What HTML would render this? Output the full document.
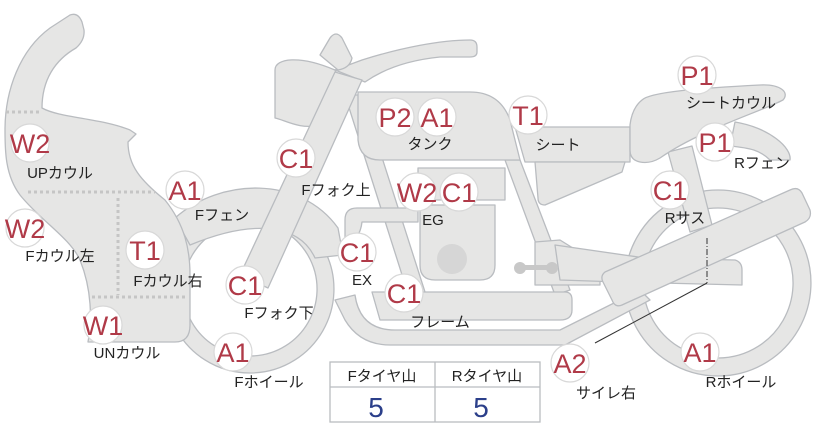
<!DOCTYPE html>
<html><head><meta charset="utf-8"><style>
html,body{margin:0;padding:0;background:#fff;}
svg{display:block;}
.p{fill:#e6e6e5;stroke:#b9bcc0;stroke-width:1.3;stroke-linejoin:round;}
.b circle{fill:#fff;stroke:#d8d8d8;stroke-width:1.2;}
.b text{fill:#b03a48;font-family:"Liberation Sans",sans-serif;font-size:27px;text-anchor:middle;}
.l{font-family:"Liberation Sans","Noto Sans CJK JP",sans-serif;font-size:15px;fill:#222;text-anchor:middle;}
</style></head><body>
<svg width="822" height="425" viewBox="0 0 822 425" xmlns="http://www.w3.org/2000/svg">
<!-- front wheel -->
<path class="p" fill-rule="evenodd" d="M250,205 A84,84 0 1 1 249.9,205 Z M250,222 A67,67 0 1 0 250.1,222 Z"/>
<!-- front fender -->
<path class="p" d="M175,218 C220,178 300,175 338,228 L343,255 L315,258 C300,225 255,218 190,245 Z"/>
<!-- rear wheel -->
<path class="p" fill-rule="evenodd" d="M718,190 A93,93 0 1 1 717.9,190 Z M718,208 A75,75 0 1 0 718.1,208 Z"/>
<!-- handlebar -->
<path class="p" d="M335,70 L362,60 C400,48 440,40 470,40 Q477,40 477,47 L477,52 Q477,57 470,57 L440,57 C410,60 385,68 365,82 Z"/>
<!-- headlight -->
<path class="p" d="M320,55 L330,38 Q336,30 342,38 L352,58 Q350,68 338,70 Z"/>
<path class="p" d="M275,70 C275,58 300,55 335,70 C345,90 340,120 320,125 C300,130 285,120 275,118 Z"/>
<!-- frame tubes -->
<path class="p" d="M345,95 L362,95 L425,292 L410,300 Z"/>
<path class="p" d="M505,160 L520,160 L570,290 L555,295 Z"/>
<!-- fork -->
<path class="p" d="M240,275 L335,72 L362,80 L268,288 Z"/>
<path class="p" d="M372,292 L565,292 Q572,292 572,300 L572,310 Q572,320 560,320 L380,320 Z"/>
<path class="p" d="M355,295 Q360,330 395,330 L560,330 L640,290 L650,300 L565,345 L390,345 Q360,345 345,320 L335,300 Z"/>
<!-- tank -->
<path class="p" d="M358,92 L470,92 Q500,92 510,120 L520,160 L380,160 Q360,160 358,140 Z"/>
<!-- seat -->
<path class="p" d="M515,127 L630,127 L630,162 L525,162 Z"/>
<path class="p" d="M535,162 L625,162 L622,172 L545,205 Q538,205 538,198 Z"/>
<!-- rear fender -->
<path class="p" d="M735,122 C770,128 792,148 790,160 L770,160 C760,150 750,148 730,146 Z"/>
<!-- rear shock -->
<path class="p" d="M668,152 L692,146 L712,225 L690,232 Z"/>
<!-- seat cowl -->
<path class="p" d="M642,100 C650,92 700,88 760,85 C780,84 790,92 783,100 C760,112 700,130 660,158 Q650,164 640,162 Q630,160 630,150 L630,125 Q632,108 642,100 Z"/>
<!-- engine -->
<path class="p" d="M420,205 L495,205 L495,265 Q495,280 480,280 L435,280 Q420,280 420,265 Z"/>
<path class="p" d="M418,168 L505,168 L505,200 L418,200 Z"/>
<circle cx="452" cy="259" r="15" fill="#d6d6d6"/>
<path class="p" d="M345,220 Q345,208 357,208 L418,208 L418,222 L362,222 Q360,240 345,245 Z"/>
<!-- swingarm -->
<path class="p" d="M535,242 L560,240 L600,265 L600,285 L535,285 Z"/>
<path class="p" d="M555,245 L645,258 L735,260 Q742,262 742,270 L742,285 L620,282 L560,280 Z"/>
<!-- muffler -->
<path class="p" d="M605,272 L790,190 Q798,186 802,193 L810,210 Q812,218 805,222 L622,305 Q615,308 612,300 L603,282 Q600,276 605,272 Z"/>
<circle cx="520" cy="268" r="6" fill="#c8c8c8"/><circle cx="552" cy="268" r="6" fill="#c8c8c8"/>
<rect x="520" y="265" width="32" height="5" fill="#c8c8c8"/>
<!-- cowl -->
<path class="p" d="M70,15 Q78,12 82,22 L84,30 Q85,40 76,48 C55,60 42,80 42,108 C60,118 100,118 130,130 L136,134 L128,142 C128,165 140,180 165,200 C185,225 190,250 190,275 L190,325 Q190,342 175,342 L88,342 C92,320 92,290 80,260 C70,238 40,220 20,195 C5,175 5,150 5,130 C5,90 20,50 50,28 Z"/>
<g stroke="#c5c5c5" stroke-width="3" stroke-dasharray="3,3" fill="none">
<line x1="6" y1="112" x2="40" y2="112"/>
<line x1="28" y1="192" x2="155" y2="192"/>
<line x1="118" y1="198" x2="118" y2="295"/>
<line x1="92" y1="297" x2="188" y2="297"/>
</g>
<!-- leader -->
<line x1="707" y1="238" x2="707" y2="283" stroke="#333" stroke-width="1" stroke-dasharray="6,2,1,2"/>
<line x1="707" y1="283" x2="595" y2="343" stroke="#333" stroke-width="1"/>
<!-- table -->
<rect x="330" y="362" width="210" height="60" fill="#fff" stroke="#b9bcc0" stroke-width="1.3"/>
<line x1="330" y1="387" x2="540" y2="387" stroke="#b9bcc0" stroke-width="1.3"/>
<line x1="435" y1="362" x2="435" y2="422" stroke="#b9bcc0" stroke-width="1.3"/>
<text class="l" x="382" y="381">Fタイヤ山</text>
<text class="l" x="487" y="381">Rタイヤ山</text>
<text x="376" y="417" font-family="Liberation Sans,sans-serif" font-size="28" fill="#2b3f8a" text-anchor="middle">5</text>
<text x="481" y="417" font-family="Liberation Sans,sans-serif" font-size="28" fill="#2b3f8a" text-anchor="middle">5</text>
<!-- badges -->
<g class="b">
<circle cx="30" cy="143" r="19"/><text x="30" y="153">W2</text>
<circle cx="25" cy="228" r="19"/><text x="25" y="238">W2</text>
<circle cx="145" cy="250" r="19"/><text x="145" y="260">T1</text>
<circle cx="103" cy="325" r="19"/><text x="103" y="335">W1</text>
<circle cx="185" cy="190" r="19"/><text x="185" y="200">A1</text>
<circle cx="296" cy="158" r="19"/><text x="296" y="168">C1</text>
<circle cx="245" cy="285" r="19"/><text x="245" y="295">C1</text>
<circle cx="233" cy="352" r="19"/><text x="233" y="362">A1</text>
<circle cx="395" cy="117" r="19"/><text x="395" y="127">P2</text>
<circle cx="437" cy="117" r="19"/><text x="437" y="127">A1</text>
<circle cx="417" cy="192" r="19"/><text x="417" y="202">W2</text>
<circle cx="459" cy="192" r="19"/><text x="459" y="202">C1</text>
<circle cx="357" cy="252" r="19"/><text x="357" y="262">C1</text>
<circle cx="404" cy="293" r="19"/><text x="404" y="303">C1</text>
<circle cx="528" cy="115" r="19"/><text x="528" y="125">T1</text>
<circle cx="697" cy="75" r="19"/><text x="697" y="85">P1</text>
<circle cx="715" cy="142" r="19"/><text x="715" y="152">P1</text>
<circle cx="670" cy="190" r="19"/><text x="670" y="200">C1</text>
<circle cx="570" cy="363" r="19"/><text x="570" y="373">A2</text>
<circle cx="700" cy="352" r="19"/><text x="700" y="362">A1</text>
</g>
<!-- labels -->
<text class="l" x="60" y="178">UPカウル</text>
<text class="l" x="60" y="261">Fカウル左</text>
<text class="l" x="168" y="286">Fカウル右</text>
<text class="l" x="127" y="358">UNカウル</text>
<text class="l" x="222" y="220">Fフェン</text>
<text class="l" x="336" y="195">Fフォク上</text>
<text class="l" x="279" y="318">Fフォク下</text>
<text class="l" x="269" y="387">Fホイール</text>
<text class="l" x="430" y="149">タンク</text>
<text class="l" x="433" y="225">EG</text>
<text class="l" x="362" y="285">EX</text>
<text class="l" x="440" y="327">フレーム</text>
<text class="l" x="558" y="150">シート</text>
<text class="l" x="731" y="108">シートカウル</text>
<text class="l" x="762" y="168">Rフェン</text>
<text class="l" x="685" y="223">Rサス</text>
<text class="l" x="606" y="398">サイレ右</text>
<text class="l" x="741" y="387">Rホイール</text>
</svg>
</body></html>
